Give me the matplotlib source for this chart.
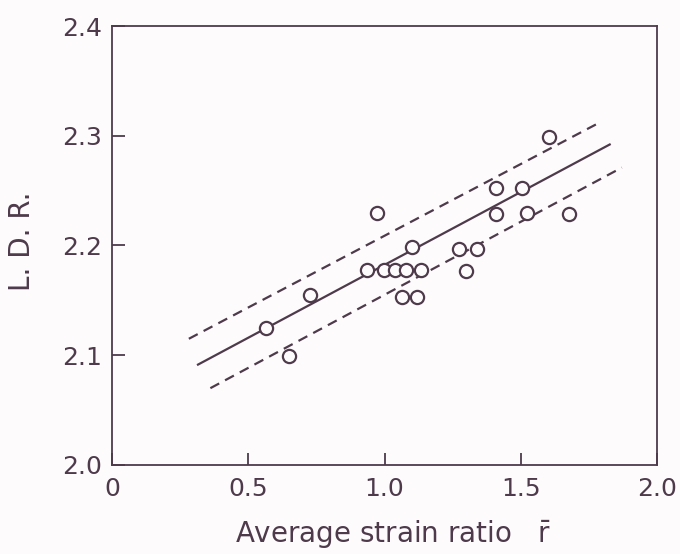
import matplotlib
matplotlib.use("Agg")
import matplotlib.pyplot as plt

# Data
r_bar = [0.564, 0.650, 0.728, 0.971, 0.934, 0.998, 1.039, 1.080, 1.134, 1.100, 1.066,
         1.121, 1.274, 1.339, 1.298, 1.411, 1.411, 1.505, 1.523, 1.676, 1.605]
ldr = [2.125, 2.099, 2.155, 2.230, 2.178, 2.178, 2.178, 2.178, 2.178, 2.199, 2.153,
       2.153, 2.197, 2.197, 2.177, 2.252, 2.229, 2.252, 2.230, 2.229, 2.299]

fit_x = [0.312, 1.830]
fit_y = [2.091, 2.2925]
upper_x = [0.282, 1.789]
upper_y = [2.115, 2.312]
lower_x = [0.361, 1.871]
lower_y = [2.070, 2.271]

xticks = [0, 0.5, 1.0, 1.5, 2.0]
xticklabels = ["0", "0.5", "1.0", "1.5", "2.0"]
yticks = [2.0, 2.1, 2.2, 2.3, 2.4]
yticklabels = ["2.0", "2.1", "2.2", "2.3", "2.4"]

ink = "#4e3a4b"
bg = "#fdfbfc"
plt.rcParams["mathtext.fontset"] = "dejavusans"
plt.rcParams["font.family"] = ["DejaVu Sans"]

fig = plt.figure(figsize=(6.8, 5.54), dpi=100, facecolor=bg)
ax = fig.add_axes([112/680, 1 - 465/554, (657-112)/680, (465-26)/554])
ax.set_facecolor(bg)

ax.plot(fit_x, fit_y, color=ink, lw=1.6, solid_capstyle="butt")
ax.plot(upper_x, upper_y, color=ink, lw=1.6, ls=(0, (4.5, 3)))
ax.plot(lower_x, lower_y, color=ink, lw=1.6, ls=(0, (4.5, 3)))
ax.plot(r_bar, ldr, ls="none", marker="o", ms=9.5, mfc=bg, mec=ink, mew=1.6, zorder=3)

ax.set_xlim(0, 2.0)
ax.set_ylim(2.0, 2.4)
ax.set_xticks(xticks)
ax.set_xticklabels(xticklabels)
ax.set_yticks(yticks)
ax.set_yticklabels(yticklabels)
ax.tick_params(direction="in", length=9, width=1.3, colors=ink, labelsize=18)
ax.tick_params(axis="x", pad=9)
ax.tick_params(axis="y", pad=7)
for s in ax.spines.values():
    s.set_color(ink)
    s.set_linewidth(1.3)

ax.set_xlabel(r"Average strain ratio   $\bar{\mathrm{r}}$", fontsize=20, color=ink, ha="left")
ax.xaxis.set_label_coords((235 - 112) / 545, -0.12)
ax.set_ylabel("L. D. R.", fontsize=20, color=ink)
ax.yaxis.set_label_coords(-0.14, 0.51)

fig.savefig("out.png", dpi=100, facecolor=fig.get_facecolor())
